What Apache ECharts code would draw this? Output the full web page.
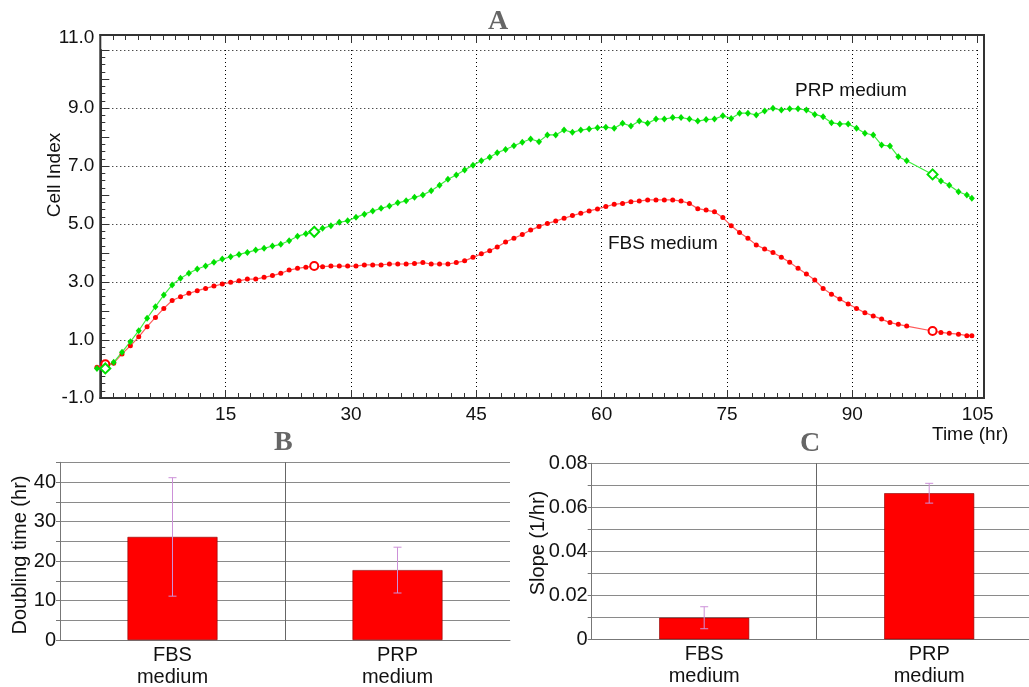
<!DOCTYPE html>
<html><head><meta charset="utf-8">
<script src="https://cdn.jsdelivr.net/npm/echarts@6/dist/echarts.min.js"></script>
<style>html,body{margin:0;padding:0;background:#fff}#c{width:1029px;height:687px}</style>
</head><body><div id="c"></div><script>
// ---- Panel A data ----
const times = [-0.4, 0.6, 1.6, 2.6, 3.6, 4.6, 5.6, 6.6, 7.6, 8.6, 9.6, 10.6, 11.6, 12.6, 13.6, 14.6, 15.6, 16.6, 17.6, 18.6, 19.6, 20.6, 21.6, 22.6, 23.6, 24.6, 25.6, 26.6, 27.6, 28.6, 29.6, 30.6, 31.6, 32.6, 33.6, 34.6, 35.6, 36.6, 37.6, 38.6, 39.6, 40.6, 41.6, 42.6, 43.6, 44.6, 45.6, 46.6, 47.5, 48.5, 49.5, 50.5, 51.5, 52.5, 53.5, 54.5, 55.5, 56.5, 57.5, 58.5, 59.5, 60.5, 61.5, 62.5, 63.5, 64.5, 65.5, 66.5, 67.5, 68.5, 69.5, 70.5, 71.5, 72.5, 73.5, 74.5, 75.5, 76.5, 77.5, 78.5, 79.5, 80.5, 81.5, 82.5, 83.5, 84.5, 85.5, 86.5, 87.5, 88.5, 89.5, 90.5, 91.5, 92.5, 93.5, 94.5, 95.5, 96.5, 99.6, 100.6, 101.6, 102.7, 103.7, 104.3];
const prpCellIndex = [0.02, 0.02, 0.23, 0.58, 0.94, 1.32,
  1.75, 2.15, 2.55, 2.90, 3.13, 3.30, 3.45, 3.55, 3.68, 3.79, 3.87, 3.95, 4.02, 4.10, 4.16, 4.24, 4.30, 4.42, 4.58, 4.66, 4.73, 4.85, 4.94, 5.06, 5.11, 5.23, 5.34, 5.45, 5.54, 5.62, 5.73, 5.80, 5.92, 6.00, 6.15, 6.34,
  6.54, 6.69, 6.86, 7.03, 7.18, 7.30, 7.46, 7.57, 7.70, 7.82,
  7.93, 7.84, 8.07, 8.07, 8.24, 8.16, 8.24, 8.28, 8.32, 8.34, 8.30, 8.47, 8.38, 8.55, 8.47, 8.62, 8.62, 8.67, 8.67, 8.62,
  8.55, 8.60, 8.62, 8.73, 8.64, 8.82, 8.82, 8.76, 8.90, 8.99, 8.93, 8.97, 8.97, 8.93, 8.78, 8.70, 8.49, 8.45, 8.45, 8.30, 8.13, 8.07, 7.72, 7.69, 7.32, 7.18,
  6.71, 6.48, 6.34, 6.11, 6.00, 5.89];
const fbsCellIndex = [0.06, 0.16, 0.20, 0.52, 0.80, 1.11,
  1.46, 1.78, 2.09, 2.36, 2.49, 2.61, 2.70, 2.78, 2.86, 2.93, 2.99, 3.04, 3.10, 3.10, 3.16, 3.22, 3.30, 3.41, 3.47, 3.51, 3.55, 3.53, 3.55, 3.55, 3.55, 3.55, 3.59, 3.59, 3.59, 3.62, 3.62, 3.62, 3.64, 3.67, 3.62, 3.62,
  3.62, 3.67, 3.73, 3.85, 3.97, 4.08, 4.21, 4.38, 4.51, 4.64,
  4.79, 4.91, 5.02, 5.10, 5.20, 5.29, 5.37, 5.45, 5.52, 5.60, 5.68, 5.71, 5.77, 5.79, 5.83, 5.83, 5.83, 5.83, 5.79, 5.71,
  5.53, 5.48, 5.42, 5.22, 4.94, 4.71, 4.51, 4.28, 4.14, 4.02, 3.85, 3.68, 3.47, 3.28, 3.07, 2.78, 2.58, 2.41, 2.24, 2.09, 1.94, 1.83, 1.72, 1.60, 1.54, 1.48,
  1.31, 1.26, 1.23, 1.20, 1.15, 1.15];
const hollowPointIndex = [1, 26, 98];

// ---- Panels B / C data ----
const barCategories = ['FBS\nmedium', 'PRP\nmedium'];
const doublingTime = [26.1, 17.7];
const doublingTimeErr = [15.0, 5.8];
const slopeValues = [0.0098, 0.0664];
const slopeErr = [0.005, 0.0045];

const FONT = "'Liberation Sans', Arial, sans-serif";
const SERIF = "'Liberation Serif', 'Times New Roman', serif";

function lineData(vals, hollowSymbol, hollowSize) {
  return times.map((t, i) => {
    const item = { value: [t, vals[i]] };
    if (hollowPointIndex.includes(i)) {
      item.symbol = hollowSymbol;
      item.symbolSize = hollowSize;
    }
    return item;
  });
}

function errData(vals, errs) {
  return vals.map((v, i) => [i, v - errs[i], v + errs[i]]);
}

function errRender(params, api) {
  const x = api.value(0);
  const lo = api.coord([x, api.value(1)]);
  const hi = api.coord([x, api.value(2)]);
  const w = 4;
  const st = { stroke: '#cc90d8', lineWidth: 1 };
  return { type: 'group', children: [
    { type: 'line', shape: { x1: lo[0], y1: lo[1], x2: hi[0], y2: hi[1] }, style: st },
    { type: 'line', shape: { x1: hi[0] - w, y1: hi[1], x2: hi[0] + w, y2: hi[1] }, style: st },
    { type: 'line', shape: { x1: lo[0] - w, y1: lo[1], x2: lo[0] + w, y2: lo[1] }, style: st }
  ]};
}

const chart = echarts.init(document.getElementById('c'), null, { renderer: 'canvas' });

const tickStyle = { color: '#333', width: 1 };
const barAxisColor = '#777';

const option = {
  backgroundColor: '#fff',
  animation: false,
  textStyle: { fontFamily: FONT },
  grid: [
    { left: 100.3, top: 50, width: 877.4, height: 348, outerBoundsMode: 'none', containLabel: false },
    { left: 60, top: 462.3, width: 450, height: 177.7, outerBoundsMode: 'none', containLabel: false },
    { left: 591.7, top: 463.3, width: 450, height: 176, outerBoundsMode: 'none', containLabel: false },
    { left: 100.3, top: 35, width: 883.7, height: 363, outerBoundsMode: 'none', containLabel: false,
      show: true, borderColor: '#333', borderWidth: 2, backgroundColor: 'rgba(0,0,0,0)' }
  ],
  xAxis: [
    { gridIndex: 0, type: 'value', min: 0, max: 105, interval: 15,
      axisLine: { show: true, onZero: false, lineStyle: { color: '#333', width: 2 } },
      axisTick: { show: true, inside: true, length: 8, lineStyle: tickStyle },
      minorTick: { show: true, splitNumber: 10, length: 5, lineStyle: tickStyle },
      axisLabel: { formatter: v => (v > 0 && v % 15 === 0) ? String(v) : '', fontSize: 19, color: '#111', margin: 7, fontFamily: FONT },
      splitLine: { show: true, lineStyle: { color: '#000', type: [1, 3], width: 1 } } },
    { gridIndex: 0, type: 'value', position: 'top', offset: 15, min: 0, max: 105, interval: 15,
      axisLine: { show: true, onZero: false, lineStyle: { color: '#333', width: 2 } },
      axisTick: { show: true, inside: true, length: 8, lineStyle: tickStyle },
      minorTick: { show: true, splitNumber: 10, length: 5, lineStyle: tickStyle },
      axisLabel: { show: false }, splitLine: { show: false } },
    { gridIndex: 1, type: 'category', data: barCategories,
      axisLine: { show: true, lineStyle: { color: barAxisColor } },
      axisTick: { show: false },
      axisLabel: { fontSize: 20, color: '#111', lineHeight: 22, margin: 4, interval: 0, fontFamily: FONT },
      splitLine: { show: true, interval: 0, showMinLine: false, showMaxLine: false, lineStyle: { color: '#666' } } },
    { gridIndex: 2, type: 'category', data: barCategories,
      axisLine: { show: true, lineStyle: { color: barAxisColor } },
      axisTick: { show: false },
      axisLabel: { fontSize: 20, color: '#111', lineHeight: 22, margin: 4, interval: 0, fontFamily: FONT },
      splitLine: { show: true, interval: 0, showMinLine: false, showMaxLine: false, lineStyle: { color: '#666' } } },
    { gridIndex: 3, type: 'value', min: 0, max: 1, show: false }
  ],
  yAxis: [
    { gridIndex: 0, type: 'value', min: -1, max: 11, interval: 1,
      axisLine: { show: true, onZero: false, lineStyle: { color: '#333', width: 2 } },
      axisTick: { show: true, inside: true, length: 9, lineStyle: tickStyle },
      minorTick: { show: true, splitNumber: 4, length: 5, lineStyle: tickStyle },
      axisLabel: { showMinLabel: true, showMaxLabel: true, fontSize: 19, color: '#111', margin: 6, fontFamily: FONT,
        formatter: v => (Math.abs(v % 2) === 1) ? (v === 11 ? '{up|11.0}' : v.toFixed(1)) : '',
        rich: { up: { fontSize: 19, color: '#111', fontFamily: FONT, padding: [0, 0, 24, 0] } } },
      splitLine: { show: true, lineStyle: { color: ['#000', 'rgba(0,0,0,0)'], type: [1, 3], width: 1 } } },
    { gridIndex: 1, type: 'value', min: 0, max: 45, interval: 5,
      axisLine: { show: true, lineStyle: { color: barAxisColor } },
      axisTick: { show: true, length: 4, lineStyle: { color: barAxisColor } },
      axisLabel: { formatter: v => (v % 10 === 0) ? String(v) : '', fontSize: 20, color: '#111', margin: 4, fontFamily: FONT },
      splitLine: { show: true, lineStyle: { color: '#8a8a8a', width: 1 } } },
    { gridIndex: 2, type: 'value', min: 0, max: 0.08, interval: 0.01,
      axisLine: { show: true, lineStyle: { color: barAxisColor } },
      axisTick: { show: true, length: 4, lineStyle: { color: barAxisColor } },
      axisLabel: { formatter: v => { const k = Math.round(v * 100); return k === 0 ? '0' : (k % 2 === 0 ? v.toFixed(2) : ''); },
        fontSize: 20, color: '#111', margin: 4, fontFamily: FONT },
      splitLine: { show: true, lineStyle: { color: '#8a8a8a', width: 1 } } },
    { gridIndex: 3, type: 'value', min: 0, max: 1, show: false }
  ],
  series: [
    { name: 'FBS medium', type: 'line', xAxisIndex: 0, yAxisIndex: 0, clip: false,
      data: lineData(fbsCellIndex, 'emptyCircle', 8),
      symbol: 'circle', symbolSize: 5,
      lineStyle: { color: '#ff5a5a', width: 1.2 },
      itemStyle: { color: '#ff0000' } },
    { name: 'PRP medium', type: 'line', xAxisIndex: 0, yAxisIndex: 0, clip: false,
      data: lineData(prpCellIndex, 'emptyDiamond', 10),
      symbol: 'diamond', symbolSize: [6, 7],
      lineStyle: { color: '#3cef3c', width: 1.2 },
      itemStyle: { color: '#00e000' } },
    { type: 'bar', xAxisIndex: 2, yAxisIndex: 1, data: doublingTime, barWidth: '40%',
      itemStyle: { color: '#ff0000', borderColor: '#8a0000', borderWidth: 0.6 } },
    { type: 'custom', xAxisIndex: 2, yAxisIndex: 1, data: errData(doublingTime, doublingTimeErr),
      encode: { x: 0, y: [1, 2] }, renderItem: errRender, z: 5 },
    { type: 'bar', xAxisIndex: 3, yAxisIndex: 2, data: slopeValues, barWidth: '40%',
      itemStyle: { color: '#ff0000', borderColor: '#8a0000', borderWidth: 0.6 } },
    { type: 'custom', xAxisIndex: 3, yAxisIndex: 2, data: errData(slopeValues, slopeErr),
      encode: { x: 0, y: [1, 2] }, renderItem: errRender, z: 5 }
  ],
  graphic: [
    { type: 'text', left: 488, top: 8, style: { text: 'A', font: "bold 28px " + SERIF, fill: '#666' } },
    { type: 'text', left: 274, top: 429, style: { text: 'B', font: "bold 28px " + SERIF, fill: '#666' } },
    { type: 'text', left: 800, top: 430, style: { text: 'C', font: "bold 28px " + SERIF, fill: '#666' } },
    { type: 'text', x: 55, y: 175, rotation: Math.PI / 2, style: { text: 'Cell Index', font: "19px " + FONT, fill: '#111', align: 'center', verticalAlign: 'middle' } },
    { type: 'text', x: 795, y: 91, style: { text: 'PRP medium', font: "19px " + FONT, fill: '#111', align: 'left', verticalAlign: 'middle' } },
    { type: 'text', x: 608, y: 244, style: { text: 'FBS medium', font: "19px " + FONT, fill: '#111', align: 'left', verticalAlign: 'middle' } },
    { type: 'text', x: 932, y: 435, style: { text: 'Time (hr)', font: "19px " + FONT, fill: '#111', align: 'left', verticalAlign: 'middle' } },
    { type: 'text', x: 20, y: 555, rotation: Math.PI / 2, style: { text: 'Doubling time (hr)', font: "20px " + FONT, fill: '#111', align: 'center', verticalAlign: 'middle' } },
    { type: 'text', x: 538, y: 543, rotation: Math.PI / 2, style: { text: 'Slope (1/hr)', font: "20px " + FONT, fill: '#111', align: 'center', verticalAlign: 'middle' } }
  ]
};
chart.setOption(option);
</script></body></html>
